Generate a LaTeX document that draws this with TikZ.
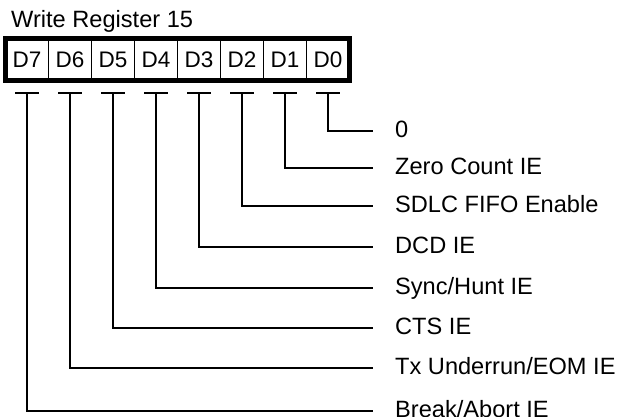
\documentclass[tikz,border=0pt]{standalone}
\usepackage{fontspec}
\setmainfont{Liberation Sans}
\usetikzlibrary{positioning,calc}

\begin{document}
\begin{tikzpicture}[
    x=1pt, y=-1pt,
    cell/.style={draw, line width=1.5pt, minimum width=43pt, minimum height=42pt, inner sep=0pt, outer sep=0pt, font=\fontsize{22.5}{26}\selectfont},
    lbl/.style={anchor=west, inner sep=0pt, text height=17pt, text depth=4pt, font=\fontsize{23.6}{28}\selectfont},
    wire/.style={line width=2pt},
    bar/.style={line width=2pt}
]
    \useasboundingbox (0,0) rectangle (621,416);

    % Register cells
    \node[lbl] (title) at (11,20.5) {Write Register 15};
    \node[cell] (d7) at (27,59.5) {D7};
    \node[cell, right=0pt of d7] (d6) {D6};
    \node[cell, right=0pt of d6] (d5) {D5};
    \node[cell, right=0pt of d5] (d4) {D4};
    \node[cell, right=0pt of d4] (d3) {D3};
    \node[cell, right=0pt of d3] (d2) {D2};
    \node[cell, right=0pt of d2] (d1) {D1};
    \node[cell, right=0pt of d1] (d0) {D0};
    \draw[line width=5pt] (d7.north west) rectangle (d0.south east);

    % Bit names
    \node[lbl] (b0) at (395,131) {0};
    \node[lbl] (b1) at (395,168) {Zero Count IE};
    \node[lbl] (b2) at (395,206) {SDLC FIFO Enable};
    \node[lbl] (b3) at (395,247) {DCD IE};
    \node[lbl] (b4) at (395,288) {Sync/Hunt IE};
    \node[lbl] (b5) at (395,328) {CTS IE};
    \node[lbl] (b6) at (395,368) {Tx Underrun/EOM IE};
    \node[lbl] (b7) at (395,411) {Break/Abort IE};

    % T-bars under the cells
    \coordinate (t0) at ($(d0.south)+(0,12)$);
    \coordinate (t1) at ($(d1.south)+(0,12)$);
    \coordinate (t2) at ($(d2.south)+(0,12)$);
    \coordinate (t3) at ($(d3.south)+(0,12)$);
    \coordinate (t4) at ($(d4.south)+(0,12)$);
    \coordinate (t5) at ($(d5.south)+(0,12)$);
    \coordinate (t6) at ($(d6.south)+(0,12)$);
    \coordinate (t7) at ($(d7.south)+(0,12)$);
    \draw[bar] ([xshift=-12pt]t0) -- ([xshift=12pt]t0);
    \draw[bar] ([xshift=-12pt]t1) -- ([xshift=12pt]t1);
    \draw[bar] ([xshift=-12pt]t2) -- ([xshift=12pt]t2);
    \draw[bar] ([xshift=-12pt]t3) -- ([xshift=12pt]t3);
    \draw[bar] ([xshift=-12pt]t4) -- ([xshift=12pt]t4);
    \draw[bar] ([xshift=-12pt]t5) -- ([xshift=12pt]t5);
    \draw[bar] ([xshift=-12pt]t6) -- ([xshift=12pt]t6);
    \draw[bar] ([xshift=-12pt]t7) -- ([xshift=12pt]t7);

    % Connectors to the names
    \draw[wire] (t0) |- ([xshift=-22pt]b0.west);
    \draw[wire] (t1) |- ([xshift=-22pt]b1.west);
    \draw[wire] (t2) |- ([xshift=-22pt]b2.west);
    \draw[wire] (t3) |- ([xshift=-22pt]b3.west);
    \draw[wire] (t4) |- ([xshift=-22pt]b4.west);
    \draw[wire] (t5) |- ([xshift=-22pt]b5.west);
    \draw[wire] (t6) |- ([xshift=-22pt]b6.west);
    \draw[wire] (t7) |- ([xshift=-22pt]b7.west);
\end{tikzpicture}
\end{document}
